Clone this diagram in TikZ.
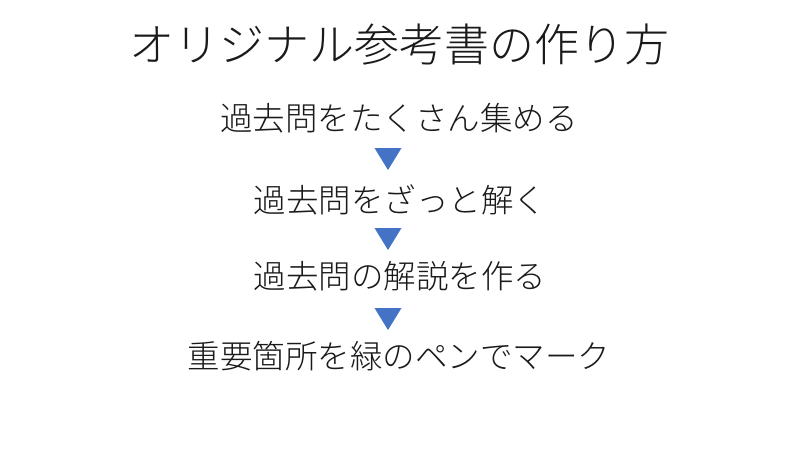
\documentclass[tikz,border=0pt]{standalone}
\usepackage{fontspec}
\setmainfont{Noto Sans CJK JP Light}
\definecolor{tri}{HTML}{4472C4}
\definecolor{txt}{HTML}{1A1A1A}
\begin{document}
\begin{tikzpicture}[x=1pt,y=-1pt,
  title/.style={font=\fontsize{45}{48}\selectfont, text=txt, inner sep=0pt, anchor=center},
  stepbox/.style={font=\fontsize{32.5}{36}\selectfont, text=txt, inner sep=0pt, anchor=center},
  arrowtri/.style={fill=tri, draw=none}]
\useasboundingbox (0,0) rectangle (800,450);
\fill[white] (0,0) rectangle (800,450);
\node[title] (t) at (399,45) {オリジナル参考書の作り方};
\node[stepbox] (s1) at (399,118) {過去問をたくさん集める};
\node[stepbox] (s2) at (400,200) {過去問をざっと解く};
\node[stepbox] (s3) at (400,276) {過去問の解説を作る};
\node[stepbox] (s4) at (399,356) {重要箇所を緑のペンでマーク};
\coordinate (a1) at (388,159);
\coordinate (a2) at (388,239);
\coordinate (a3) at (388,319);
\foreach \a in {a1,a2,a3}{
  \fill[arrowtri] ([shift={(-13.5,-11)}]\a) -- ([shift={(13.5,-11)}]\a) -- ([shift={(0,11)}]\a) -- cycle;
}
\end{tikzpicture}
\end{document}
